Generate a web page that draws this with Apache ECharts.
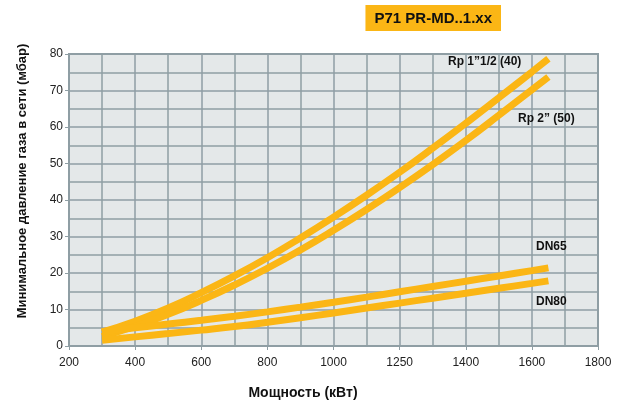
<!DOCTYPE html>
<html>
<head>
<meta charset="utf-8">
<script src="https://cdn.jsdelivr.net/npm/echarts@6/dist/echarts.min.js"></script>
<style>
html, body { margin: 0; padding: 0; background: #fff; }
#chart { width: 625px; height: 406px; }
</style>
</head>
<body>
<div id="chart"></div>
<script>
// мощность, кВт
var powerKw = [300, 400, 500, 600, 700, 800, 900, 1000, 1100, 1200, 1300, 1400, 1500, 1600, 1650];
// минимальное давление, мбар
var rp40 = [3.8, 6.8, 10.4, 14.6, 19.2, 24.2, 29.6, 35.3, 41.3, 47.6, 54.2, 61, 68, 75.1, 78.7];
var rp50 = [2.6, 5.4, 8.7, 12.5, 16.7, 21.3, 26.3, 31.7, 37.4, 43.4, 49.7, 56.3, 63.2, 70.2, 73.7];
var dn65 = [3.9, 5, 6, 7.05, 8.15, 9.35, 10.65, 12, 13.4, 14.85, 16.3, 17.75, 19.2, 20.65, 21.4];
var dn80 = [1.6, 2.5, 3.4, 4.35, 5.35, 6.5, 7.75, 9.05, 10.4, 11.75, 13.1, 14.45, 15.8, 17.15, 17.85];
var xTickLabels = ['200', '400', '600', '800', '1000', '1250', '1400', '1600', '1800'];
var yTickLabels = ['0', '10', '20', '30', '40', '50', '60', '70', '80'];

var gridColor = '#8f9ea4';
var lineColor = '#fbb615';

function pairs(ys) {
    return powerKw.map(function (x, i) { return [x, ys[i]]; });
}

function curve(name, ys) {
    return {
        name: name,
        type: 'line',
        data: pairs(ys),
        smooth: true,
        symbol: 'none',
        lineStyle: { color: lineColor, width: 7, cap: 'butt' },
        z: 3
    };
}

var chart = echarts.init(document.getElementById('chart'));
var option = {
    animation: false,
    title: {
        text: 'P71 PR-MD..1.xx',
        right: 124,
        top: 5,
        backgroundColor: '#fbb615',
        padding: [6, 9, 5, 9],
        textStyle: { fontFamily: 'Liberation Sans', fontWeight: 'bold', fontSize: 15, color: '#111' }
    },
    grid: { left: 69, right: 27, top: 54, bottom: 60, show: true, backgroundColor: '#e4e8e9', borderColor: gridColor, borderWidth: 2 },
    xAxis: {
        type: 'value',
        min: 200, max: 1800, interval: 200,
        axisLine: { lineStyle: { color: gridColor, width: 2 } },
        axisTick: { show: true, length: 4, lineStyle: { color: gridColor } },
        axisLabel: {
            margin: 11,
            color: '#222', fontFamily: 'Liberation Sans', fontSize: 12,
            formatter: function (v) { return xTickLabels[Math.round((v - 200) / 200)]; }
        },
        splitLine: { show: true, lineStyle: { color: gridColor, width: 1.5 } },
        minorTick: { show: false, splitNumber: 2 },
        minorSplitLine: { show: true, lineStyle: { color: gridColor, width: 1.5 } }
    },
    yAxis: {
        type: 'value',
        min: 0, max: 80, interval: 10,
        axisLine: { show: true, lineStyle: { color: gridColor, width: 2 } },
        axisTick: { show: true, length: 4, lineStyle: { color: gridColor } },
        axisLabel: {
            margin: 6,
            color: '#222', fontFamily: 'Liberation Sans', fontSize: 12,
            formatter: function (v) { return yTickLabels[Math.round(v / 10)]; }
        },
        splitLine: { show: true, lineStyle: { color: gridColor, width: 1.5 } },
        minorTick: { show: false, splitNumber: 2 },
        minorSplitLine: { show: true, lineStyle: { color: gridColor, width: 1.5 } }
    },
    series: [
        curve('Rp 1”1/2 (40)', rp40),
        curve('Rp 2” (50)', rp50),
        curve('DN65', dn65),
        curve('DN80', dn80)
    ],
    graphic: [
        { type: 'text', x: 22, y: 181, rotation: Math.PI / 2,
          style: { text: 'Минимальное давление газа в сети (мбар)', align: 'center', verticalAlign: 'middle',
                   fill: '#111', font: 'bold 13px "Liberation Sans"' } },
        { type: 'text', x: 303, y: 393,
          style: { text: 'Мощность (кВт)', align: 'center', verticalAlign: 'middle',
                   fill: '#111', font: 'bold 14px "Liberation Sans"' } },
        { type: 'text', x: 448, y: 62, z: 10,
          style: { text: 'Rp 1”1/2 (40)', verticalAlign: 'middle', fill: '#111', font: 'bold 12px "Liberation Sans"' } },
        { type: 'text', x: 518, y: 119, z: 10,
          style: { text: 'Rp 2” (50)', verticalAlign: 'middle', fill: '#111', font: 'bold 12px "Liberation Sans"' } },
        { type: 'text', x: 536, y: 247, z: 10,
          style: { text: 'DN65', verticalAlign: 'middle', fill: '#111', font: 'bold 12px "Liberation Sans"' } },
        { type: 'text', x: 536, y: 302, z: 10,
          style: { text: 'DN80', verticalAlign: 'middle', fill: '#111', font: 'bold 12px "Liberation Sans"' } }
    ]
};
chart.setOption(option);
</script>
</body>
</html>
